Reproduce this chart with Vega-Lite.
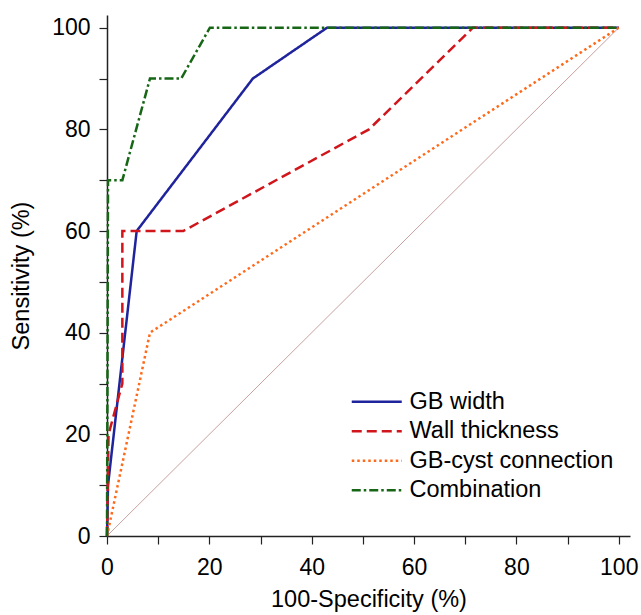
{
  "$schema": "https://vega.github.io/schema/vega-lite/v6.json",
  "autosize": "none",
  "width": 523,
  "height": 521,
  "padding": {"left": 107, "top": 15, "right": 11, "bottom": 79},
  "background": "white",
  "config": {
    "font": "Liberation Sans",
    "view": {"stroke": null},
    "axis": {
      "domainColor": "#222",
      "domainWidth": 1.5,
      "tickColor": "#222",
      "tickWidth": 1.2,
      "tickSize": 8,
      "grid": false,
      "labelFont": "Liberation Sans",
      "labelFontSize": 23,
      "labelColor": "black",
      "titleFont": "Liberation Sans",
      "titleFontSize": 23.5,
      "titleFontWeight": "normal",
      "titleColor": "black"
    }
  },
  "layer": [
    {
      "data": {"values": [{"fpr": 0, "tpr": 0}, {"fpr": 100, "tpr": 100}]},
      "mark": {"type": "line", "color": "#c9a0a0", "strokeWidth": 1},
      "encoding": {
        "x": {"field": "fpr", "type": "quantitative"},
        "y": {"field": "tpr", "type": "quantitative"}
      }
    },
    {
      "data": {
        "values": [
          {"test": "GB width", "order": 1, "fpr": 0, "tpr": 0},
          {"test": "GB width", "order": 2, "fpr": 0.2, "tpr": 10},
          {"test": "GB width", "order": 3, "fpr": 5.8, "tpr": 60},
          {"test": "GB width", "order": 4, "fpr": 28.5, "tpr": 90},
          {"test": "GB width", "order": 5, "fpr": 43, "tpr": 100},
          {"test": "GB width", "order": 6, "fpr": 100, "tpr": 100},
          {"test": "Wall thickness", "order": 1, "fpr": 0, "tpr": 0},
          {"test": "Wall thickness", "order": 2, "fpr": 0.3, "tpr": 20},
          {"test": "Wall thickness", "order": 3, "fpr": 3, "tpr": 30},
          {"test": "Wall thickness", "order": 4, "fpr": 3, "tpr": 60},
          {"test": "Wall thickness", "order": 5, "fpr": 14.9, "tpr": 60},
          {"test": "Wall thickness", "order": 6, "fpr": 51.2, "tpr": 80},
          {"test": "Wall thickness", "order": 7, "fpr": 71.5, "tpr": 100},
          {"test": "Wall thickness", "order": 8, "fpr": 100, "tpr": 100},
          {"test": "GB-cyst connection", "order": 1, "fpr": 0, "tpr": 0},
          {"test": "GB-cyst connection", "order": 2, "fpr": 8.4, "tpr": 40},
          {"test": "GB-cyst connection", "order": 3, "fpr": 100, "tpr": 100},
          {"test": "Combination", "order": 1, "fpr": 0, "tpr": 0},
          {"test": "Combination", "order": 2, "fpr": 0.2, "tpr": 70},
          {"test": "Combination", "order": 3, "fpr": 3, "tpr": 70},
          {"test": "Combination", "order": 4, "fpr": 8.4, "tpr": 90},
          {"test": "Combination", "order": 5, "fpr": 14.5, "tpr": 90},
          {"test": "Combination", "order": 6, "fpr": 20.1, "tpr": 100},
          {"test": "Combination", "order": 7, "fpr": 100, "tpr": 100}
        ]
      },
      "mark": {"type": "line", "strokeWidth": 2.5},
      "encoding": {
        "x": {
          "field": "fpr",
          "type": "quantitative",
          "scale": {"domain": [0, 102.2], "nice": false, "zero": false},
          "axis": {
            "title": "100-Specificity (%)",
            "values": [0, 5, 10, 15, 20, 25, 30, 35, 40, 45, 50, 55, 60, 65, 70, 75, 80, 85, 90, 95, 100],
            "labelExpr": "datum.value % 20 === 0 ? datum.label : ''",
            "labelPadding": 12,
            "titlePadding": 8,
            "labelFlush": false,
            "labelOverlap": false
          }
        },
        "y": {
          "field": "tpr",
          "type": "quantitative",
          "scale": {"domain": [0, 102.5], "nice": false, "zero": false},
          "axis": {
            "title": "Sensitivity (%)",
            "values": [0, 5, 10, 15, 20, 25, 30, 35, 40, 45, 50, 55, 60, 65, 70, 75, 80, 85, 90, 95, 100],
            "labelExpr": "datum.value % 20 === 0 ? datum.label : ''",
            "labelPadding": 9,
            "titlePadding": 18,
            "labelFlush": false,
            "labelOverlap": false
          }
        },
        "order": {"field": "order", "type": "quantitative"},
        "color": {
          "field": "test",
          "type": "nominal",
          "sort": ["GB width", "Wall thickness", "GB-cyst connection", "Combination"],
          "scale": {
            "domain": ["GB width", "Wall thickness", "GB-cyst connection", "Combination"],
            "range": ["#1f239c", "#d0151b", "#ff6a1a", "#166616"]
          },
          "legend": {
            "title": null,
            "orient": "none",
            "legendX": 258,
            "legendY": 375,
            "symbolType": "M-2.5,0L2.5,0",
            "symbolSize": 400,
            "symbolStrokeWidth": 2.5,
            "labelFontSize": 23.5,
            "labelFont": "Liberation Sans",
            "labelColor": "black",
            "labelOffset": 21,
            "rowPadding": 4.5,
            "labelLimit": 400
          }
        },
        "strokeDash": {
          "field": "test",
          "type": "nominal",
          "sort": ["GB width", "Wall thickness", "GB-cyst connection", "Combination"],
          "scale": {
            "domain": ["GB width", "Wall thickness", "GB-cyst connection", "Combination"],
            "range": [[1, 0], [10, 5], [2.5, 3], [9, 3, 2.5, 3]]
          },
          "legend": {
            "title": null,
            "orient": "none",
            "legendX": 258,
            "legendY": 375,
            "symbolType": "M-2.5,0L2.5,0",
            "symbolSize": 400,
            "symbolStrokeWidth": 2.5,
            "labelFontSize": 23.5,
            "labelFont": "Liberation Sans",
            "labelColor": "black",
            "labelOffset": 21,
            "rowPadding": 4.5,
            "labelLimit": 400
          }
        }
      }
    }
  ]
}
